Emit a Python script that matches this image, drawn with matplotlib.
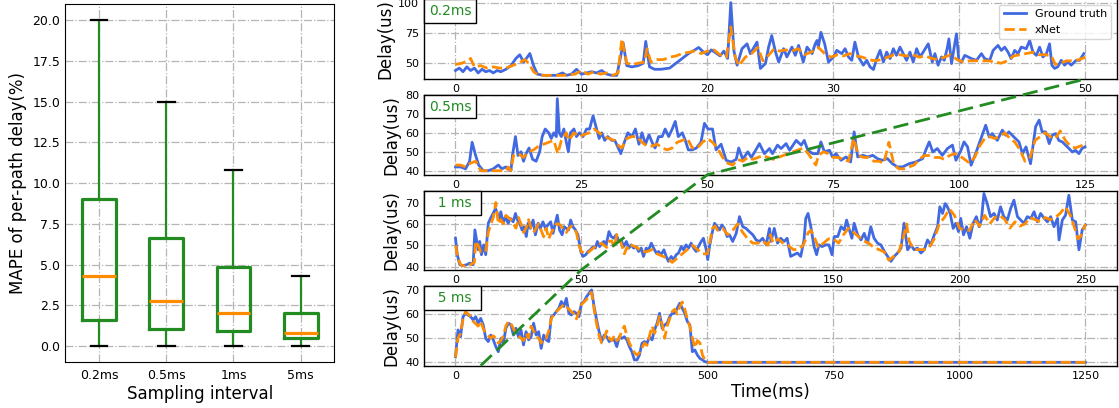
import matplotlib
matplotlib.use("Agg")
import matplotlib.pyplot as plt
from matplotlib.lines import Line2D
from matplotlib.offsetbox import AnchoredText
import numpy as np

# ---------------- data ----------------
intervals = ["0.2ms", "0.5ms", "1ms", "5ms"]
mape_whislo = [0.0, 0.0, 0.0, 0.0]
mape_q1 = [1.6, 1.05, 0.9, 0.5]
mape_med = [4.3, 2.75, 2.05, 0.82]
mape_q3 = [9.0, 6.65, 4.88, 2.02]
mape_whishi = [20.0, 15.0, 10.8, 4.3]

panel_labels = ["0.2ms", "0.5ms", "  1 ms ", "  5 ms "]

# 0.2 ms panel
t02_gt = [0, 0.3, 0.6, 0.9, 1.2, 1.5, 1.8, 2.1, 2.4, 2.7, 3.0, 3.3, 3.6, 4.0, 4.4, 4.8, 5.1, 5.4, 5.7, 5.9,
          6.2, 6.5, 7.0, 7.5, 8.0, 8.5, 8.8, 9.2, 9.6, 10.0, 10.4, 10.8, 11.2, 11.6, 12.0, 12.4, 12.8, 13.1,
          13.3, 13.6, 14.0, 14.5, 14.9, 15.1, 15.4, 15.8, 16.3, 17.0, 17.5, 18.0, 18.5, 19.0, 19.3, 19.6,
          20.0, 20.3, 20.6, 21.0, 21.3, 21.6, 21.85, 22.1, 22.35, 22.74, 23.14, 23.4, 23.93, 24.2, 24.6,
          24.85, 25.1, 25.4, 25.65, 26.04, 26.3, 26.7, 26.97, 27.23, 27.6, 27.9, 28.3, 28.55, 28.7, 28.8,
          29.0, 29.3, 29.6, 30.0, 30.26, 30.66, 30.92, 31.19, 31.45, 31.7, 31.98, 32.37, 32.64, 32.9,
          33.17, 33.43, 33.7, 33.96, 34.22, 34.49, 34.75, 35.0, 35.28, 35.54, 35.8, 36.07, 36.33, 36.6,
          36.86, 37.12, 37.52, 37.84, 38.05, 38.3, 38.58, 38.79, 39.02, 39.16, 39.37, 39.58, 39.76, 39.95,
          40.16, 40.42, 40.95, 41.35, 41.74, 42.0, 42.4, 42.67, 43.06, 43.32, 43.59, 43.85, 44.1, 44.38,
          44.64, 44.9, 45.3, 45.57, 45.83, 46.1, 46.36, 46.62, 46.9, 47.15, 47.33, 47.55, 47.8, 48.07,
          48.34, 48.6, 48.87, 49.26, 49.53, 49.87]
v02_gt = [44, 46, 43, 47, 44, 46, 42, 45, 43, 44, 42, 44, 43, 45, 48, 54, 57, 51, 55, 58,
          48, 41, 40, 40, 40, 42, 40, 41, 45, 41, 42, 43, 42, 44, 41, 40, 40, 55,
          67, 48, 47, 48, 50, 68, 47, 45, 45, 46, 50, 54, 58, 61, 63, 60,
          57, 61, 59, 56, 60, 54, 100, 60, 48.4, 62, 66, 57.9, 67.4, 45.7, 49.7,
          63.3, 72.8, 59.2, 51, 62, 55.2, 63.3, 56.5, 64.7, 51, 63.3, 57.9, 66, 68.8, 63.3,
          75.5, 66, 51, 55.2, 60.6, 57.9, 62, 55.2, 52.4, 67.4, 55.2, 48.4, 52.4, 47,
          44.8, 53.8, 60.6, 51, 59.2, 53.8, 62, 56.5, 63.3, 57.9, 52.4, 59.2, 51, 62,
          55.2, 59.2, 66, 51, 57.9, 48.4, 55.2, 52.4, 62, 70.1, 49.7, 63.3, 74.2, 52.4,
          51, 56.5, 53.8, 52.4, 57.9, 53.8, 52.4, 60.6, 64.7, 60.6, 63.3, 59.2, 53.8, 60.6,
          57.9, 63.3, 62, 68.8, 59.2, 56.5, 63.3, 55.2, 57.9, 66, 48.4, 45.7, 47, 52.4,
          48.4, 51, 48.4, 52.4, 52.4, 57.9]
t02_xn = [0, 0.5, 1.0, 1.2, 1.5, 2.0, 2.5, 3.0, 3.5, 4.0, 4.5, 5.0, 5.5, 5.8, 6.2, 6.6, 7.5, 8.5, 9.5,
          10.0, 10.5, 11.0, 11.5, 12.0, 12.5, 12.9, 13.2, 13.6, 14.0, 14.5, 15.0, 15.2, 15.5, 16.0, 16.5,
          17.0, 17.5, 18.0, 18.5, 19.0, 19.5, 20.0, 20.5, 21.0, 21.5, 21.85, 22.2, 22.5, 23.0, 23.5, 24.0,
          24.4, 24.8, 25.3, 25.7, 26.2, 26.7, 27.2, 27.7, 28.2, 28.8, 29.3, 29.8, 30.3, 30.8, 31.3, 31.8,
          32.3, 32.8, 33.3, 33.8, 34.3, 34.8, 35.3, 35.8, 36.3, 36.8, 37.3, 37.8, 38.3, 38.8, 39.3, 39.8,
          40.3, 40.8, 41.3, 41.8, 42.3, 42.8, 43.3, 43.8, 44.3, 44.8, 45.3, 45.8, 46.3, 46.8, 47.3, 47.6,
          48.0, 48.5, 49.0, 49.5, 50.0]
v02_xn = [49, 50, 52, 54, 47, 48, 46, 47, 46, 46, 48, 50, 53, 50, 43, 40, 40, 40, 41,
          44, 41, 43, 41, 42, 40, 42, 70, 50, 49, 50, 51, 62, 51, 53, 53,
          55, 56, 58, 59, 60, 58, 60, 61, 57, 55, 80, 55, 48, 55, 58, 63,
          52, 56, 62, 60, 61, 60, 62, 57, 59, 63, 58, 55, 57, 56, 58, 56,
          55, 53, 52, 53, 55, 57, 57, 56, 57, 55, 56, 54, 53, 55, 57, 53,
          51, 52, 52, 52, 52, 51, 50, 52, 56, 57, 58, 59, 57, 57, 56, 49,
          50, 52, 52, 53, 55]

# 0.5 ms panel
t05_gt = [0, 1, 2, 2.8, 3.3, 4, 4.6, 5.5, 6.5, 7.5, 8.5, 9.2, 10, 11, 11.3, 11.9, 12.4, 13, 13.5, 14,
          14.6, 15.3, 16, 16.7, 17.2, 17.8, 18.5, 19, 19.5, 20, 20.2, 20.6, 21, 21.5, 22, 22.4, 22.8, 23.5,
          24, 24.6, 25.3, 26, 26.6, 27.3, 27.8, 28.5, 29, 29.6, 30.2, 31, 31.6, 32.3, 32.8, 33.5, 34.2, 35,
          35.7, 36.4, 37, 37.7, 38.4, 39, 39.6, 40.3, 41, 41.6, 42.3, 43, 43.6, 44.2, 45, 45.6, 46.2, 47,
          47.8, 48.7, 49.4, 50.1, 51, 51.7, 52.7, 53.7, 54.7, 55.7, 56.2, 57, 58, 58.7, 59.6, 60.3, 61.3,
          62.3, 62.9, 63.9, 64.6, 65.6, 66.3, 67.6, 68.6, 69.2, 69.9, 70.9, 71.9, 72.5, 73.2, 74.2, 74.8,
          75.5, 76.5, 77.5, 78.4, 79.1, 79.8, 80.8, 81.8, 82.8, 83.7, 84.7, 85.7, 86.7, 87.7, 88.7, 90,
          91.3, 92.7, 93.3, 94, 94.7, 95.6, 96.6, 97.6, 98.6, 99.3, 100.3, 100.9, 101.6, 102.3, 103.2,
          103.9, 104.6, 105.2, 105.9, 106.5, 107.5, 108.5, 109.2, 109.8, 110.8, 111.8, 112.5, 113.2, 114.1,
          115.1, 115.8, 116.4, 117.1, 117.8, 118.4, 119.1, 119.7, 120.4, 121.4, 122.4, 123, 123.7, 124.3,
          124.9]
v05_gt = [42, 42, 41, 45, 55, 48, 43, 40, 40, 41, 43, 41, 42, 40, 48, 58, 48, 50, 45, 49,
          52, 46, 45, 50, 58, 62, 60, 57, 60, 58, 78, 60, 58, 62, 55, 50, 60, 62,
          58, 60, 58, 62, 62, 69, 64, 57, 60, 56, 58, 56, 56, 52, 49, 55, 60, 58,
          62, 54, 60, 54, 59, 55, 52, 58, 58, 62, 58, 62, 66, 58, 60, 56, 51, 51,
          52, 55, 65, 62, 62, 51, 54, 45.5, 44.6, 46, 52, 46, 50, 47, 51, 54.3, 49,
          51.7, 49, 53.5, 51.7, 54.3, 50.8, 56, 53.5, 56, 50.8, 49, 49, 55.2, 50, 50.8, 47.3,
          49, 45.5, 47.3, 44.6, 60.5, 47.3, 48.1, 47.3, 48.1, 46.4, 45.5, 46.4, 43.7, 42, 42, 43.7,
          44.6, 46.4, 50.8, 55.2, 49.9, 51.7, 48.1, 51.7, 53.5, 45.5, 50.8, 55.2, 52.6, 42.9, 49,
          54.3, 59.6, 64, 57.8, 59.6, 56, 61.4, 58.7, 60.5, 57.8, 55.2, 49, 52.6, 43.7,
          63.2, 66.7, 60.5, 60.5, 54.3, 58.7, 59.6, 56, 55.2, 52.6, 49.9, 50.8, 49, 51.7,
          52.6]
t05_xn = [0, 1, 2, 3, 4, 5, 6, 7, 8, 9, 10, 10.5, 11, 11.5, 12.5, 13.5, 14.5, 15.5, 16.5, 17.5, 18.5,
          19.5, 20.3, 21, 22, 22.5, 23.5, 24.5, 25.5, 26.5, 27.5, 28.5, 29.5, 30.5, 31.5, 32, 33, 34, 35,
          36, 37, 38, 39, 40, 41, 42, 43, 44, 45, 46, 47, 48, 49, 50, 51, 52, 53, 54, 55, 56, 57, 58, 59,
          60, 61, 62, 63, 64, 65, 66, 67, 68, 69, 70, 71.5, 72, 73, 74, 75, 76, 77, 78, 79, 80, 81, 82, 83,
          84, 85, 86, 87, 88, 89, 90, 91, 92, 93, 94, 95, 96, 97, 98, 99, 100, 101, 102, 103, 104, 105,
          106, 107, 108, 109, 110, 111, 112, 113, 114, 115, 116, 117, 118, 119, 120, 121, 122, 123, 124,
          125]
v05_xn = [43, 43, 42, 44, 45, 40, 40, 40, 40, 40, 40, 42, 40, 48, 49, 47, 50, 51, 53, 54, 55,
          56, 49, 56, 60, 56, 60, 58, 59, 60, 62, 60, 58, 57, 56, 54, 52, 57, 58,
          58, 55, 53, 53, 54, 52, 51, 52, 55, 56, 57, 52, 52, 55, 57, 55, 52, 47, 44, 43, 46, 45, 47, 46,
          47, 48, 47, 46, 47, 48, 49, 50, 51, 52, 49, 43, 48, 50, 49, 47, 47, 46, 45, 57, 48, 47, 47, 45,
          45, 44, 55, 43, 41, 41, 42, 43, 46, 48, 48, 47, 47, 46, 48, 49, 48, 46, 44, 47, 53, 57,
          58, 57, 58, 60, 57, 55, 51, 45, 47, 56, 58, 60, 58, 57, 61, 56, 53, 52, 53,
          54]

# 1 ms panel
t1_gt = [0, 0.7, 1.7, 3, 4.4, 5.7, 7, 7.7, 9, 9.6, 10.3, 11.2, 12, 13, 13.9, 14.9, 15.9, 16.6, 17.3, 18,
         18.9, 19.8, 20.9, 21.8, 22.9, 23.8, 24.6, 25.5, 26.4, 27.2, 28.1, 28.8, 29.7, 30.8, 31.7, 32.8,
         33.7, 34.7, 35.7, 36.7, 37.8, 38.7, 39.6, 40.4, 41.3, 42.3, 43.1, 44, 44.9, 45.7, 46.6, 47.6,
         48.6, 49.7, 50.6, 51.7, 52.6, 53.5, 54.6, 55.5, 56.3, 57.2, 58.1, 58.9, 59.8, 60.9, 61.8, 62.7,
         63.8, 64.9, 65.8, 66.7, 67.8, 68.8, 69.7, 70.7, 71.7, 72.7, 73.7, 74.6, 75.7, 76.6, 77.7, 78.6,
         79.7, 80.6, 81.6, 82.7, 83.6, 84.5, 85.6, 86.5, 87.6, 88.5, 89.6, 90.5, 91.5, 92.5, 93.5, 94.5,
         95.5, 96.4, 97.5, 98.4, 99.5, 100.1, 100.8, 101.8, 102.8, 103.8, 104.8, 105.7, 106.7, 107.8,
         108.7, 110, 111.4, 112.7, 114, 115.3, 116.6, 118, 119.3, 120.6, 121.9, 123.3, 124.6, 125.2,
         126.5, 127.8, 129, 130.4, 131.6, 133, 134.3, 135.7, 137, 138.3, 139, 139.9, 141, 142.3, 143.3,
         144.2, 145.5, 146.9, 148.2, 149.4, 150.3, 151.7, 153, 154.3, 155.2, 156.3, 157.3, 158.2, 159.6,
         160.9, 162.2, 163.5, 164.8, 166.1, 167.5, 168.8, 170.2, 171.5, 172.8, 174.1, 175.4, 176.8, 178,
         179.4, 180.7, 182, 183.3, 184.7, 186, 187.3, 188.6, 190, 191.3, 192.2, 193.3, 194.3, 195.2,
         196.3, 197.5, 198.5, 199.6, 200.5, 201.6, 202.8, 204.1, 205.4, 206.7, 207.8, 208.7, 209.7, 211,
         212.3, 213.7, 215, 216.3, 217.6, 219, 220.3, 221.6, 223, 224.3, 225.6, 226.9, 228.3, 229.6,
         230.9, 232.2, 233.6, 234.9, 236.2, 237.5, 238.9, 239.5, 240.8, 242.1, 243.4, 244.8, 246.1,
         247.4, 248.7, 250]
v1_gt = [53.3, 45.6, 40.9, 40.5, 40.9, 41.7, 40.9, 57.2, 47.9, 51.8, 45.6, 50.2, 45.6, 60.3, 62.6, 64.9,
         67.2, 64.9, 61.8, 65.7, 60.3, 63.4, 60.3, 62.6, 61, 64.9, 61.8, 60.3, 57.2, 58.7, 54.1, 60.3,
         57.9, 61.8, 54.9, 60.3, 57.9, 61, 57.9, 59.5, 61, 55.6, 60.3, 64.1, 57.2, 54.9, 58.7, 57.9,
         57.2, 61.8, 58.7, 57.2, 54.9, 47.1, 44.8, 45.6, 47.1, 47.9, 49.4, 48.7, 51.8, 49.4, 51, 51.8,
         50.2, 56.4, 54.1, 53.3, 54.9, 51.8, 52.5, 49.4, 51.8, 48.7, 50.2, 48.7, 49.4, 47.1, 48.7, 44.8,
         48.7, 47.9, 51, 48.7, 46.4, 47.1, 45.6, 47.9, 44.8, 42.5, 44.8, 43.3, 45.6, 46.4, 49.4, 47.9,
         50.2, 48.7, 51, 48.7, 47.1, 49.4, 51.8, 53.3, 47.9, 43.3, 49.4, 55.6, 60.3, 58.7, 57.2, 59.5,
         57.9, 54.1, 54.9, 51.8, 55.6, 63.4, 58.7, 57.9, 56.4, 54.9, 52.5, 51.8, 53.3, 50.2, 57.9, 51.8,
         57.9, 51, 53.3, 51.8, 53.3, 44.8, 45.6, 46.4, 44.8, 52.5, 62.6, 64.9, 58.7, 49.4, 45.6,
         50.2, 49.4, 50.2, 50.2, 45.6, 54.1, 54.1, 58.7, 57.2, 61.8, 57.2, 53.3, 60.3, 54.9,
         52.5, 55.6, 51, 58.7, 53.3, 51, 50.2, 47.1, 44.8, 42.5, 44.8, 46.4, 48.7, 60.3,
         47.9, 50.2, 47.9, 48.7, 46.4, 47.9, 52.5, 50.2, 54.9, 58.7, 68, 64.9, 69.5, 68,
         64.9, 57.9, 60.3, 56.4, 62.6, 54.9, 58.7, 53.3, 60.3, 63.4, 58.7, 61.8, 74.2, 69.5,
         63.4, 64.9, 61.8, 68, 63.4, 61.8, 67.2, 71.1, 63.4, 61.8, 60.3, 63.4, 62.6, 65.7,
         61, 64.9, 62.6, 61, 63.4, 58.7, 62.6, 52.5, 61.8, 64.1, 73.4, 61.8, 61,
         47.9, 57.2, 59.5]
t1_xn = [0, 1, 2, 4, 6, 7.5, 8, 9, 10, 12, 13, 14, 15, 16, 17, 18, 19, 20, 21, 22, 23, 24, 25, 26, 27,
         28, 29, 30, 31, 32, 33, 34, 35, 36, 37, 38, 39, 40, 41, 42, 43, 44, 45, 46, 47, 48, 49, 50, 52,
         54, 56, 58, 60, 61, 62, 63, 64, 65, 66, 67, 68, 69, 70, 72, 74, 76, 78, 80, 82, 84, 86, 88, 90,
         92, 94, 96, 98, 100, 101, 102, 103, 104, 106, 108, 110, 112, 114, 116, 118, 120, 122, 124, 125,
         126, 128, 130, 132, 134, 136, 138, 140, 141, 142, 144, 146, 148, 150, 152, 154, 156, 158, 160,
         162, 164, 166, 168, 170, 172, 174, 176, 178, 179, 180, 182, 184, 186, 188, 190, 192, 194, 196,
         198, 200, 202, 204, 206, 208, 210, 212, 214, 216, 218, 220, 222, 224, 226, 228, 230, 232, 234,
         236, 238, 240, 242, 244, 246, 247, 248, 250]
v1_xn = [50, 44, 41, 40, 41, 42, 52, 50, 47, 47, 56, 60, 63, 70, 60, 62, 60, 64, 63, 62, 60, 58, 63, 60, 56,
         58, 62, 58, 56, 58, 60, 57, 54, 58, 53, 56, 58, 60, 60, 59, 57, 56, 58, 59, 58, 56, 50, 47, 46,
         48, 50, 51, 49, 52, 52, 49, 55, 54, 50, 46, 49, 48, 50, 49, 47, 47, 48, 46, 45, 44, 42, 44, 46,
         48, 50, 48, 46, 46, 52, 58, 59, 57, 58, 55, 57, 60, 56, 53, 51, 51, 52, 50, 55,
         51, 53, 51, 50, 48, 48, 50, 56, 57, 55, 49, 51, 53, 53, 51, 55, 58, 56, 54,
         52, 51, 49, 48, 47, 43, 45, 47, 55, 60, 52, 48, 48, 48, 49, 53, 60, 63, 67,
         64, 58, 57, 57, 62, 59, 64, 60, 63, 64, 62, 58, 61, 59, 60, 63, 62, 61, 63,
         62, 63, 65, 68, 64, 57, 53, 54, 60]

# 5 ms panel
t5_gt = [0, 5, 10, 15, 20, 25, 30, 35, 40, 45, 50, 55, 60, 65, 70, 75, 80, 85, 90, 95, 100, 105, 110,
         115, 120, 125, 130, 135, 140, 145, 150, 155, 160, 165, 170, 175, 180, 185, 190, 195, 200, 205,
         210, 215, 220, 225, 230, 235, 240, 245, 250, 255, 260, 265, 270, 275, 280, 285, 290, 295, 300,
         305, 310, 315, 320, 325, 330, 335, 340, 345, 350, 355, 360, 365, 370, 375, 380, 385, 390, 395,
         400, 405, 410, 415, 420, 425, 430, 435, 440, 445, 450, 455, 460, 465, 470, 475, 480, 485, 490,
         495, 500, 1250]
v5_gt = [42.3, 53.4, 50.6, 58.9, 60.3, 59.6, 58.9, 57.6, 58.9, 56.2, 58.2, 55.5, 49.9, 48.6, 51.3, 49.3,
         46.5, 44.4, 49.9, 47.9, 54.1, 56.2, 55.5, 51.3, 54.1, 50.6, 53.4, 47.2, 52.7, 49.3, 50.6, 56.2,
         51.3, 52.7, 45.8, 51.3, 49.3, 48.6, 58.9, 59.6, 61, 62.4, 65.2, 63.1, 66.5, 60.3, 59.6, 61, 60.3,
         58.9, 64.5, 65.2, 67.2, 68.6, 70, 63.1, 57.6, 52.7, 48.6, 51.3, 50.6, 48.6, 49.3, 49.3, 46.5,
         50.6, 49.9, 50.6, 49.3, 46.5, 44.4, 41, 41, 43, 47.9, 48.6, 47.9, 50.6, 49.3, 53.4, 56.2, 60.3,
         54.1, 55.5, 56.2, 58.9, 60.3, 60.3, 62.4, 64.5, 62.4, 60.3, 56.9, 55.5, 44.4, 45.1, 43, 41.6,
         41, 40.3, 40, 40]
t5_xn = [0, 5, 10, 15, 20, 25, 30, 35, 40, 45, 50, 55, 60, 65, 70, 75, 80, 85, 90, 95, 100, 105, 110,
         115, 120, 125, 130, 135, 140, 145, 150, 155, 160, 165, 170, 175, 180, 185, 190, 195, 200, 205,
         210, 215, 220, 225, 230, 235, 240, 245, 250, 255, 260, 265, 270, 275, 280, 285, 290, 295, 300,
         305, 310, 315, 320, 325, 330, 335, 340, 345, 350, 355, 360, 365, 370, 375, 380, 385, 390, 395,
         400, 405, 410, 415, 420, 425, 430, 435, 440, 445, 450, 455, 460, 465, 470, 475, 480, 485, 490,
         495, 500, 1250]
v5_xn = [42, 50, 52, 58, 61, 60, 59, 57, 56, 55, 57, 54, 52, 51, 50, 51, 50, 48, 49, 51, 55, 57, 56,
         54, 52, 51, 50, 49, 52, 50, 55, 53, 51, 50, 48, 50, 50, 53, 58, 60, 61, 62,
         63, 64, 63, 62, 61, 60, 58, 61, 64, 65, 66, 68, 69, 62, 56, 51, 48, 50, 53,
         50, 49, 51, 49, 50, 53, 55, 51, 48, 46, 44, 43, 44, 46, 48, 47, 51, 55, 52,
         55, 59, 56, 50, 55, 58, 61, 62, 60, 63, 65, 62, 58, 55, 50, 46, 49, 48, 43,
         41, 40, 40]

panel_x_gt = [t02_gt, t05_gt, t1_gt, t5_gt]
panel_y_gt = [v02_gt, v05_gt, v1_gt, v5_gt]
panel_x_xn = [t02_xn, t05_xn, t1_xn, t5_xn]
panel_y_xn = [v02_xn, v05_xn, v1_xn, v5_xn]
panel_ylims = [(37, 103), (37.9, 80.1), (38.6, 75.4), (38.6, 71.5)]
panel_yticks = [[50, 75, 100], [40, 50, 60, 70, 80], [40, 50, 60, 70], [40, 50, 60, 70]]
panel_xticks = [[0, 10, 20, 30, 40, 50], [0, 25, 50, 75, 100, 125], [0, 50, 100, 150, 200, 250],
                [0, 250, 500, 750, 1000, 1250]]
panel_xmax = [50, 125, 250, 1250]
link_time = 50

# ---------------- style ----------------
GREEN = "forestgreen"
BLUE = "royalblue"
ORANGE = "darkorange"
GRID = dict(color="#b5b5b5", linestyle="-.", linewidth=0.9)

fig = plt.figure(figsize=(11.19, 4.08), dpi=100)

# ---------------- left boxplot ----------------
axb = fig.add_axes([0.0584, 0.1120, 0.2404, 0.8782])
stats = []
for i, name in enumerate(intervals):
    stats.append(dict(label=name, whislo=mape_whislo[i], q1=mape_q1[i], med=mape_med[i],
                      q3=mape_q3[i], whishi=mape_whishi[i], fliers=[]))
axb.bxp(stats, showfliers=False, widths=0.5,
        boxprops=dict(color=GREEN, linewidth=2.3),
        whiskerprops=dict(color=GREEN, linewidth=1.6),
        capprops=dict(color="black", linewidth=1.6),
        medianprops=dict(color=ORANGE, linewidth=2.3))
axb.set_ylim(-1, 21)
axb.set_yticks([0, 2.5, 5, 7.5, 10, 12.5, 15, 17.5, 20])
axb.grid(True, **GRID)
axb.set_axisbelow(True)
axb.tick_params(axis="both", length=0, labelsize=9)
axb.tick_params(axis="x", pad=5)
axb.set_xlabel("Sampling interval", fontsize=12, labelpad=2)
axb.set_ylabel("MAPE of per-path delay(%)", fontsize=12)

# ---------------- right time-series panels ----------------
rects = [[0.3789, 0.8064, 0.6193, 0.1961],
         [0.3789, 0.5718, 0.6193, 0.1961],
         [0.3789, 0.3390, 0.6193, 0.1929],
         [0.3789, 0.1037, 0.6193, 0.1946]]
axes = []
for k in range(4):
    ax = fig.add_axes(rects[k])
    ax.plot(panel_x_gt[k], panel_y_gt[k], color=BLUE, linewidth=2, label="Ground truth")
    ax.plot(panel_x_xn[k], panel_y_xn[k], color=ORANGE, linewidth=2, linestyle="--", label="xNet")
    ax.set_xlim(-0.05 * panel_xmax[k], 1.05 * panel_xmax[k])
    ax.set_ylim(*panel_ylims[k])
    ax.set_yticks(panel_yticks[k])
    ax.set_xticks(panel_xticks[k])
    ax.grid(True, **GRID)
    ax.tick_params(axis="both", length=0, labelsize=8)
    ax.set_ylabel("Delay(us)", fontsize=12, labelpad=3)
    for s in ax.spines.values():
        s.set_linewidth(1.0)
    at = AnchoredText(panel_labels[k], loc="upper left", frameon=True, borderpad=0, pad=0.35,
                      prop=dict(size=10, color=GREEN))
    at.patch.set_boxstyle("square", pad=0)
    at.patch.set_linewidth(1.0)
    ax.add_artist(at)
    axes.append(ax)

axes[0].legend(loc="upper right", fontsize=8)
axes[3].set_xlabel("Time(ms)", fontsize=12, labelpad=2)

# green dashed link through x = 50 ms on each panel's bottom edge (bottom panel first)
inv = fig.transFigure.inverted()
pts = []
for ax in axes[::-1]:
    disp = ax.transData.transform((link_time, ax.get_ylim()[0]))
    pts.append(inv.transform(disp))
pts = np.array(pts)
fig.add_artist(Line2D(pts[:, 0], pts[:, 1], transform=fig.transFigure, color=GREEN,
                      linewidth=2, linestyle=(0, (5.5, 2.5)), zorder=10))

fig.savefig("out.png", dpi=100)
